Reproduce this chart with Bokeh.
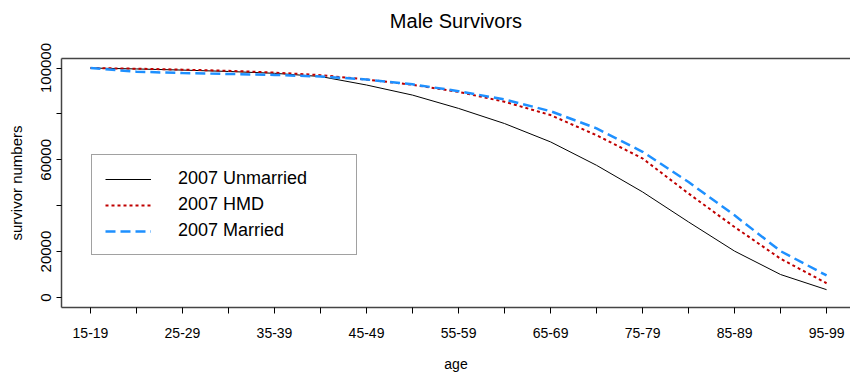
from bokeh.plotting import figure
from bokeh.models import Range1d, FixedTicker, Legend, LegendItem, LinearAxis
from bokeh.embed import file_html
from bokeh.resources import INLINE

title_text = "Male Survivors"
age_groups = ["15-19", "20-24", "25-29", "30-34", "35-39", "40-44", "45-49", "50-54",
              "55-59", "60-64", "65-69", "70-74", "75-79", "80-84", "85-89", "90-94", "95-99"]
unmarried = [100000, 99600, 99100, 98500, 97700, 96300, 92600, 88200, 82400, 75800,
             67800, 57600, 46000, 32900, 20200, 10000, 3400]
hmd = [100000, 99700, 99300, 98800, 98000, 96900, 95000, 92700, 89600, 85300,
       79500, 70700, 60600, 45300, 30700, 16900, 6200]
married = [100000, 98400, 97800, 97400, 97000, 96300, 95000, 92900, 89900, 86300,
           81200, 73700, 63500, 50300, 35800, 20200, 9600]
y_ticks = [0, 20000, 40000, 60000, 80000, 100000]
y_tick_labels = ["0", "20000", "", "60000", "", "100000"]

FONT = "Liberation Sans"
xs = list(range(len(age_groups)))

p = figure(width=850, height=377, output_backend="svg", toolbar_location=None,
           x_range=Range1d(-0.63, 16.52), y_range=Range1d(-4370, 104150),
           min_border_left=61, min_border_right=0, min_border_top=58, min_border_bottom=70)
p.title = None
p.background_fill_color = "white"
p.border_fill_color = "white"
p.grid.visible = False
p.outline_line_color = None

r1 = p.line(xs, unmarried, line_color="black", line_width=1)
r2 = p.line(xs, hmd, line_color="#c00000", line_width=2, line_dash="3 3")
r3 = p.line(xs, married, line_color="#1e90ff", line_width=2.5, line_dash="10 5")

xa = p.xaxis[0]
xa.ticker = FixedTicker(ticks=xs)
xa.major_label_overrides = {i: (age_groups[i] if i % 2 == 0 else "") for i in xs}
xa.minor_tick_line_color = None
xa.major_tick_out = 6
xa.major_tick_in = 0
xa.major_label_standoff = 14
xa.major_label_text_font = FONT
xa.major_label_text_font_size = "14px"
xa.major_label_text_color = "black"
xa.axis_label = "age"
xa.axis_label_text_font = FONT
xa.axis_label_text_font_size = "14px"
xa.axis_label_text_font_style = "normal"
xa.axis_label_text_color = "black"
xa.axis_label_standoff = 15
xa.axis_line_color = "#444444"
xa.axis_line_width = 1.5

ya = p.yaxis[0]
ya.ticker = FixedTicker(ticks=y_ticks)
ya.major_label_overrides = {t: l for t, l in zip(y_ticks, y_tick_labels)}
ya.minor_tick_line_color = None
ya.major_tick_out = 5
ya.major_tick_in = 0
ya.major_label_orientation = "vertical"
ya.major_label_standoff = 5
ya.major_label_text_font = FONT
ya.major_label_text_font_size = "15px"
ya.major_label_text_color = "black"
ya.axis_label = "survivor numbers"
ya.axis_label_text_font = FONT
ya.axis_label_text_font_size = "15px"
ya.axis_label_text_font_style = "normal"
ya.axis_label_text_color = "black"
ya.axis_label_standoff = 14
ya.axis_line_color = "#444444"
ya.axis_line_width = 1.5

# top border of the box, carrying the chart title as its label
top_axis = LinearAxis(ticker=FixedTicker(ticks=[]), axis_line_color="#444444",
                      axis_line_width=1.5, major_tick_line_color=None, major_tick_out=0,
                      major_tick_in=0, major_label_standoff=0,
                      minor_tick_line_color=None, major_label_text_font_size="0px",
                      axis_label=title_text, axis_label_text_font=FONT,
                      axis_label_text_font_size="20px", axis_label_text_font_style="normal",
                      axis_label_text_color="black", axis_label_standoff=27)
p.add_layout(top_axis, "above")

legend = Legend(items=[LegendItem(label="2007 Unmarried", renderers=[r1]),
                       LegendItem(label="2007 HMD", renderers=[r2]),
                       LegendItem(label="2007 Married", renderers=[r3])],
                location=(30, 52))
legend.padding = 13
legend.margin = 0
legend.spacing = 5
legend.glyph_width = 46
legend.glyph_height = 18
legend.label_height = 18
legend.label_width = 165
legend.label_standoff = 27
legend.label_text_font = FONT
legend.label_text_font_size = "18px"
legend.label_text_color = "black"
legend.border_line_color = "#444444"
legend.border_line_width = 1.5
legend.background_fill_alpha = 1
p.add_layout(legend, "center")

open("out.html", "w").write(file_html(p, INLINE))
